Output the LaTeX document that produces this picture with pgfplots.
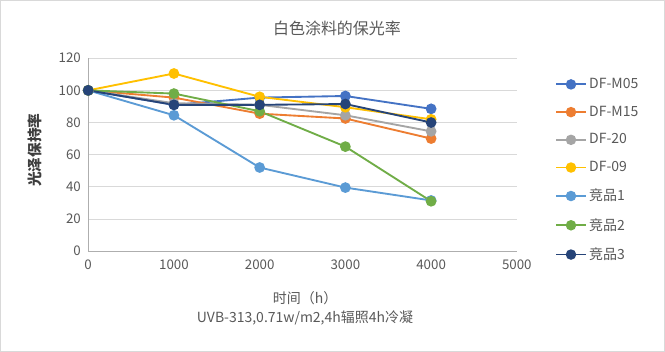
\documentclass[border=0pt]{standalone}
\usepackage{pgfplots}
\pgfplotsset{compat=1.18}
\usepackage{fontspec}
\setmainfont{Noto Sans CJK SC}
\definecolor{c1}{HTML}{4472C4}
\definecolor{c2}{HTML}{ED7D31}
\definecolor{c3}{HTML}{A5A5A5}
\definecolor{c4}{HTML}{FFC000}
\definecolor{c5}{HTML}{5B9BD5}
\definecolor{c6}{HTML}{70AD47}
\definecolor{c7}{HTML}{264478}
\definecolor{txt}{HTML}{595959}
\definecolor{grd}{HTML}{D9D9D9}
\begin{document}
\begin{tikzpicture}
\draw[fill=white,draw=grd] (-66pt,-75pt) rectangle (432.75pt,188.25pt);
\begin{axis}[
  at={(0pt,0pt)}, anchor=south west,
  scale only axis, width=321.75pt, height=144.75pt,
  xmin=0, xmax=5000, ymin=0, ymax=120,
  xtick={0,1000,...,5000}, ytick={0,20,...,120},
  scaled x ticks=false,
  major tick length=0pt,
  ymajorgrids, grid style={grd, line width=0.6pt},
  axis x line*=bottom, axis y line*=left,
  axis line style={draw=grd!80!black, line width=0.6pt, -},
  tick label style={font=\fontsize{10}{11}\selectfont, text=txt},
  /pgf/number format/assume math mode=true,
  /pgf/number format/1000 sep={},
  xticklabel style={yshift=-3pt},
  yticklabel style={xshift=-2pt},
  legend style={at={(axis description cs:1.080,0.925)}, anchor=north west, draw=none, fill=none,
     font=\fontsize{10.5}{12}\selectfont, text=txt, row sep=7.6pt},
  legend cell align=left,
  legend image code/.code={\draw[#1, mark=none] (0pt,0pt) -- (22pt,0pt); \fill[#1] (11pt,0pt) circle (3.2pt);},
  every axis plot/.append style={line width=1.4pt, mark=*, mark size=3.3pt},
  clip=false,
]
\addplot[c1, mark options={fill=c1}] coordinates {(0,100) (1000,91) (2000,95.5) (3000,96.5) (4000,88.5)};
\addlegendentry{DF-M05}
\addplot[c2, mark options={fill=c2}] coordinates {(0,100) (1000,95.5) (2000,85.5) (3000,82.5) (4000,70)};
\addlegendentry{DF-M15}
\addplot[c3, mark options={fill=c3}] coordinates {(0,100) (1000,92) (2000,91) (3000,84.5) (4000,74.5)};
\addlegendentry{DF-20}
\addplot[c4, mark options={fill=c4}] coordinates {(0,100) (1000,110.5) (2000,96) (3000,89.5) (4000,82)};
\addlegendentry{DF-09}
\addplot[c5, mark options={fill=c5}] coordinates {(0,100) (1000,84.5) (2000,52) (3000,39.5) (4000,31.5)};
\addlegendentry{竞品1}
\addplot[c6, mark options={fill=c6}] coordinates {(0,100) (1000,98) (2000,87) (3000,65) (4000,31)};
\addlegendentry{竞品2}
\addplot[c7, mark options={fill=c7}] coordinates {(0,100) (1000,91) (2000,91) (3000,91.5) (4000,80)};
\addlegendentry{竞品3}
\end{axis}
\node[text=txt, font=\fontsize{12}{14}\selectfont] at (186.75pt,167.25pt) {白色涂料的保光率};
\node[text=txt!70!black, font=\bfseries\fontsize{11}{13}\selectfont, rotate=90] at (-39.75pt,75.75pt) {光泽保持率};
\node[text=txt, font=\fontsize{10.5}{12}\selectfont] at (162.75pt,-35.25pt) {时间（h）};
\node[text=txt, font=\fontsize{10.5}{12}\selectfont] at (162.75pt,-50.25pt) {UVB-313,0.71w/m2,4h辐照4h冷凝};
\end{tikzpicture}
\end{document}
